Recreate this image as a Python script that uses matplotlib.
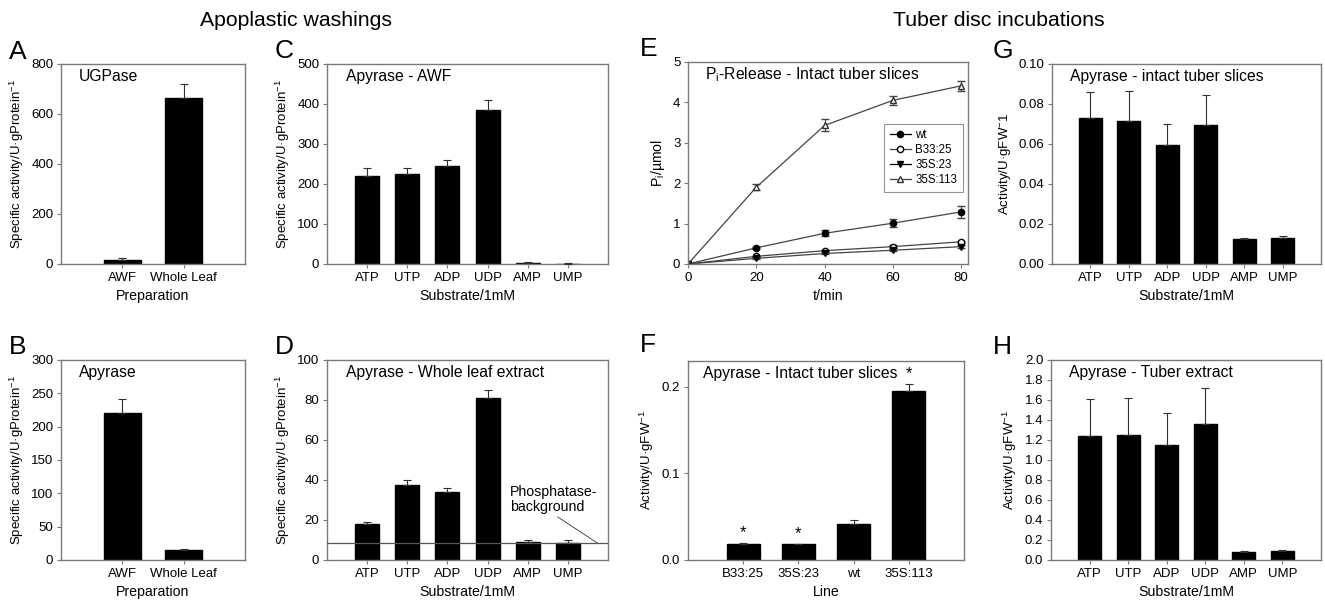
import matplotlib
matplotlib.use("Agg")
import matplotlib.pyplot as plt
from matplotlib.lines import Line2D
import numpy as np

plt.rcParams['font.family'] = ['Liberation Sans', 'DejaVu Sans']
plt.rcParams['mathtext.default'] = 'regular'

# ---------------- data ----------------
prep_cats = ["AWF", "Whole Leaf"]
ugpase_vals = [17, 665]
ugpase_err = [6, 56]
apyrase_prep_vals = [221, 15]
apyrase_prep_err = [20, 1]

substrates = ["ATP", "UTP", "ADP", "UDP", "AMP", "UMP"]
awf_vals = [221, 224, 246, 385, 2, 0.5]
awf_err = [20, 15, 15, 25, 4, 3]
leaf_vals = [17.8, 37.5, 34.0, 81.0, 9.2, 8.3]
leaf_err = [1.2, 2.4, 2.2, 3.8, 0.8, 1.5]
phosphatase_background = 8.3

times = [0, 20, 40, 60, 80]
pi_wt = [0, 0.40, 0.76, 1.01, 1.29]
pi_wt_err = [0, 0.03, 0.07, 0.10, 0.14]
pi_b33 = [0, 0.19, 0.33, 0.43, 0.55]
pi_b33_err = [0, 0.02, 0.02, 0.03, 0.03]
pi_35s23 = [0, 0.14, 0.26, 0.34, 0.43]
pi_35s23_err = [0, 0.02, 0.02, 0.03, 0.03]
pi_35s113 = [0, 1.90, 3.43, 4.05, 4.41]
pi_35s113_err = [0, 0.08, 0.15, 0.12, 0.12]

lines_cats = ["B33:25", "35S:23", "wt", "35S:113"]
slice_vals = [0.0189, 0.0181, 0.0413, 0.1958]
slice_err = [0.0008, 0.0006, 0.0050, 0.0081]
slice_sig = [True, True, False, True]

tuber_slice_vals = [0.0730, 0.0713, 0.0597, 0.0697, 0.0127, 0.0132]
tuber_slice_err = [0.0132, 0.0154, 0.0105, 0.0146, 0.0005, 0.0010]
tuber_ext_vals = [1.24, 1.25, 1.153, 1.36, 0.077, 0.090]
tuber_ext_err = [0.367, 0.367, 0.320, 0.357, 0.010, 0.010]

# ---------------- layout ----------------
W, H = 1325, 603
fig = plt.figure(figsize=(W / 100, H / 100), dpi=100)

def add_ax(x0, y0, x1, y1):
    return fig.add_axes([x0 / W, 1 - y1 / H, (x1 - x0) / W, (y1 - y0) / H])

SPINE = '#7a7a7a'
TICKFS = 9.5
XLABFS = 10.2
YLABFS = 9.5
TITFS = 11.3

def style(ax):
    for s in ax.spines.values():
        s.set_color(SPINE)
        s.set_linewidth(1.0)
    ax.tick_params(direction='out', length=3, width=0.8, color=SPINE,
                   labelsize=TICKFS, top=False, right=False, pad=2.5)

def bars(ax, cats, vals, errs):
    x = np.arange(len(cats))
    ax.bar(x, vals, width=0.6, color='black', edgecolor='black', zorder=2)
    ax.errorbar(x, vals, yerr=[np.zeros(len(vals)), errs], fmt='none',
                ecolor='#303030', elinewidth=0.8, capsize=3, capthick=0.8, zorder=3)
    ax.set_xticks(x)
    ax.set_xticklabels(cats)
    ax.set_xlim(-1, len(cats))
    return x

ylab_prot = "Specific activity/U·gProtein$^{-1}$"
ylab_fw = "Activity/U·gFW$^{-1}$"

# A
axA = add_ax(61, 64, 245, 264)
style(axA)
bars(axA, prep_cats, ugpase_vals, ugpase_err)
axA.set_ylim(0, 800)
axA.set_yticks([0, 200, 400, 600, 800])
axA.set_xlabel("Preparation", fontsize=XLABFS)
axA.set_ylabel(ylab_prot, fontsize=YLABFS)
axA.text(0.098, 0.975, "UGPase", transform=axA.transAxes, va='top', fontsize=TITFS)

# B
axB = add_ax(61, 360, 245, 560)
style(axB)
bars(axB, prep_cats, apyrase_prep_vals, apyrase_prep_err)
axB.set_ylim(0, 300)
axB.set_yticks([0, 50, 100, 150, 200, 250, 300])
axB.set_xlabel("Preparation", fontsize=XLABFS)
axB.set_ylabel(ylab_prot, fontsize=YLABFS)
axB.text(0.098, 0.975, "Apyrase", transform=axB.transAxes, va='top', fontsize=TITFS)

# C
axC = add_ax(327, 64, 608, 264)
style(axC)
bars(axC, substrates, awf_vals, awf_err)
axC.set_ylim(0, 500)
axC.set_yticks([0, 100, 200, 300, 400, 500])
axC.set_xlabel("Substrate/1mM", fontsize=XLABFS)
axC.set_ylabel(ylab_prot, fontsize=YLABFS)
axC.text(0.067, 0.975, "Apyrase - AWF", transform=axC.transAxes, va='top', fontsize=TITFS)

# D
axD = add_ax(327, 360, 608, 560)
style(axD)
bars(axD, substrates, leaf_vals, leaf_err)
axD.set_ylim(0, 100)
axD.set_yticks([0, 20, 40, 60, 80, 100])
axD.axhline(phosphatase_background, color='#555555', lw=0.9, zorder=4)
axD.set_xlabel("Substrate/1mM", fontsize=XLABFS)
axD.set_ylabel(ylab_prot, fontsize=YLABFS)
axD.text(0.067, 0.975, "Apyrase - Whole leaf extract", transform=axD.transAxes,
         va='top', fontsize=TITFS)
axD.annotate("Phosphatase-\nbackground", xy=(5.75, phosphatase_background),
             xytext=(3.55, 37.5), textcoords='data', va='top', ha='left',
             fontsize=10.2, linespacing=1.1,
             arrowprops=dict(arrowstyle='-', color='#333333', lw=0.6,
                             shrinkA=0, shrinkB=0, relpos=(0.5, 0.0)))

# E
axE = add_ax(688, 62, 968, 264)
style(axE)
LC = '#444444'
series = [
    (pi_wt, pi_wt_err, 'o', 'black', 'black', 'black', 'wt'),
    (pi_b33, pi_b33_err, 'o', 'white', 'black', LC, 'B33:25'),
    (pi_35s23, pi_35s23_err, 'v', 'black', 'black', 'black', '35S:23'),
    (pi_35s113, pi_35s113_err, '^', 'white', '#333333', LC, '35S:113'),
]
handles = []
for vals, errs, mk, mfc, mec, lc, lab in series:
    axE.errorbar(times, vals, yerr=errs, color=LC, marker=mk, mfc=mfc, mec=mec,
                 ms=4.5, lw=0.9, elinewidth=0.8, capsize=3)
    handles.append(Line2D([], [], color=lc, marker=mk, mfc=mfc, mec=mec, ms=4.5,
                          lw=0.9, label=lab))
axE.set_xlim(0, 82)
axE.set_ylim(0, 5)
axE.set_xticks([0, 20, 40, 60, 80])
axE.set_yticks([0, 1, 2, 3, 4, 5])
axE.set_xlabel("t/min", fontsize=XLABFS)
axE.set_ylabel("P$_i$/µmol", fontsize=XLABFS)
axE.text(0.06, 0.985, "P$_i$-Release - Intact tuber slices", transform=axE.transAxes,
         va='top', fontsize=TITFS)
leg = axE.legend(handles=handles, loc='upper left', bbox_to_anchor=(0.70, 0.695),
                 fontsize=8.3, frameon=True, fancybox=False, edgecolor=SPINE,
                 borderpad=0.5, handlelength=1.8, labelspacing=0.25,
                 handletextpad=0.4, borderaxespad=0)
leg.get_frame().set_linewidth(0.8)

# F
axF = add_ax(688, 361, 964, 560)
style(axF)
xF = bars(axF, lines_cats, slice_vals, slice_err)
axF.set_ylim(0, 0.23)
axF.set_yticks([0.0, 0.1, 0.2])
axF.set_yticklabels(["0.0", "0.1", "0.2"])
for xi, v, e, s in zip(xF, slice_vals, slice_err, slice_sig):
    if s:
        axF.text(xi, v + e + 0.003, "*", ha='center', va='bottom', fontsize=12)
axF.set_xlabel("Line", fontsize=XLABFS)
axF.set_ylabel(ylab_fw, fontsize=YLABFS)
axF.text(0.054, 0.975, "Apyrase - Intact tuber slices", transform=axF.transAxes,
         va='top', fontsize=TITFS)

# G
axG = add_ax(1052, 64, 1321, 264)
style(axG)
bars(axG, substrates, tuber_slice_vals, tuber_slice_err)
axG.set_ylim(0, 0.10)
axG.set_yticks([0, 0.02, 0.04, 0.06, 0.08, 0.10])
axG.set_yticklabels(["0.00", "0.02", "0.04", "0.06", "0.08", "0.10"])
axG.set_xlabel("Substrate/1mM", fontsize=XLABFS)
axG.set_ylabel("Activity/U·gFW$^{-}$1", fontsize=YLABFS)
axG.text(0.067, 0.975, "Apyrase - intact tuber slices", transform=axG.transAxes,
         va='top', fontsize=TITFS)

# H
axH = add_ax(1051, 360, 1321, 560)
style(axH)
bars(axH, substrates, tuber_ext_vals, tuber_ext_err)
axH.set_ylim(0, 2.0)
axH.set_yticks(np.round(np.arange(0, 2.01, 0.2), 1))
axH.set_yticklabels([f"{v:.1f}" for v in np.arange(0, 2.01, 0.2)])
axH.set_xlabel("Substrate/1mM", fontsize=XLABFS)
axH.set_ylabel(ylab_fw, fontsize=YLABFS)
axH.text(0.067, 0.975, "Apyrase - Tuber extract", transform=axH.transAxes,
         va='top', fontsize=TITFS)

# headers and panel letters
fig.text(296 / W, 1 - 20 / H, "Apoplastic washings", ha='center', va='center', fontsize=15.3)
fig.text(999 / W, 1 - 20 / H, "Tuber disc incubations", ha='center', va='center', fontsize=15.3)
letters = {"A": (9, 52), "B": (9, 347), "C": (275, 51), "D": (275, 347),
           "E": (640, 49), "F": (640, 345), "G": (993, 51), "H": (993, 347)}
for k, (lx, ly) in letters.items():
    fig.text(lx / W, 1 - ly / H, k, ha='left', va='center', fontsize=19)

fig.savefig("out.png", dpi=100)
